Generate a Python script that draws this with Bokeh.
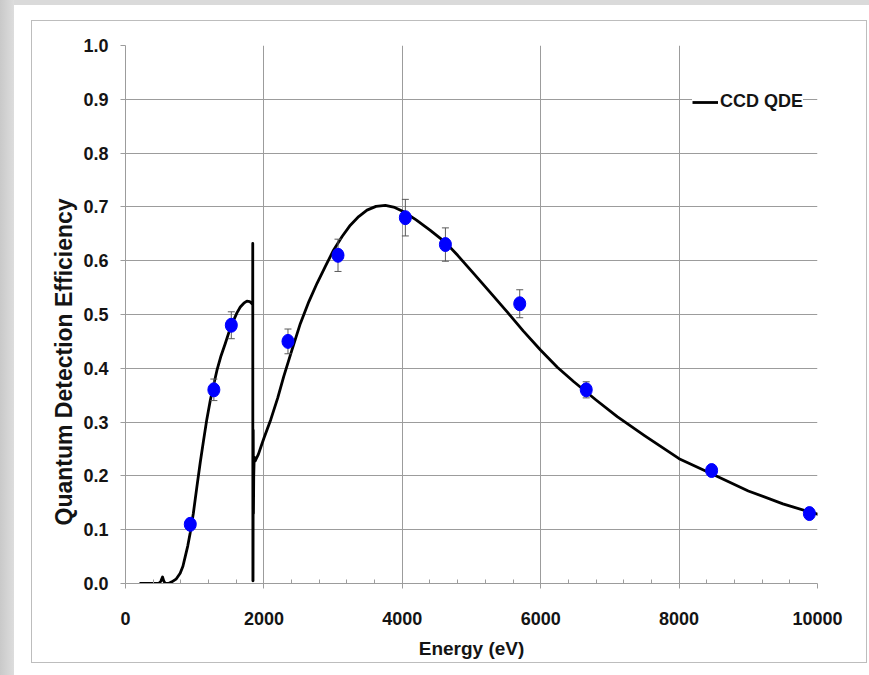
from bokeh.plotting import figure
from bokeh.models import (Range1d, FixedTicker, NumeralTickFormatter, Legend,
                          LegendItem, Title)
from bokeh.embed import file_html
from bokeh.resources import INLINE

# ---- data ----
qde_energy = [202, 300, 400, 480, 510, 535, 555, 575, 620, 670,
              730, 790, 830, 863, 900, 936, 980, 1032, 1080, 1128,
              1175, 1225, 1275, 1321, 1380, 1442, 1500, 1562, 1610, 1659,
              1710, 1755, 1795, 1828, 1838, 1839, 1841, 1843, 1846, 1849,
              1853, 1860, 1875, 1890, 1920, 1960, 2000, 2100, 2200, 2285,
              2400, 2526, 2650, 2768, 2890, 3008, 3130, 3249, 3370, 3490,
              3620, 3755, 3890, 4020, 4200, 4400, 4623, 4800, 5033, 5270,
              5515, 5750, 5997, 6240, 6479, 6800, 7106, 7500, 8000, 8500,
              9000, 9500, 9883, 10030]
qde_value = [0.0, 0.0, 0.0, 0.0, 0.004, 0.012, 0.004, 0.0, 0.0, 0.003,
             0.008, 0.019, 0.032, 0.05, 0.07, 0.095, 0.13, 0.18, 0.225, 0.266,
             0.305, 0.34, 0.37, 0.396, 0.423, 0.446, 0.469, 0.489, 0.503, 0.514,
             0.521, 0.525, 0.524, 0.52, 0.518, 0.632, 0.005, 0.005, 0.285, 0.13,
             0.2, 0.235, 0.228, 0.232, 0.24, 0.255, 0.27, 0.305, 0.345, 0.384,
             0.432, 0.483, 0.524, 0.558, 0.59, 0.62, 0.645, 0.666, 0.682, 0.694,
             0.701, 0.703, 0.699, 0.691, 0.676, 0.657, 0.634, 0.61, 0.576, 0.541,
             0.505, 0.469, 0.434, 0.402, 0.375, 0.341, 0.31, 0.275, 0.232, 0.202,
             0.172, 0.148, 0.133, 0.128]

meas_energy = [936, 1277, 1529, 2348, 3071, 4044, 4623, 5697, 6658, 8470, 9883]
meas_qde = [0.11, 0.36, 0.48, 0.45, 0.61, 0.68, 0.63, 0.52, 0.36, 0.21, 0.13]
meas_err = [0.005, 0.02, 0.025, 0.023, 0.03, 0.034, 0.031, 0.026, 0.015, 0.006, 0.005]

x_ticks = [0, 2000, 4000, 6000, 8000, 10000]
x_minor_ticks = [400, 800, 1200, 1600, 2400, 2800, 3200, 3600, 4400, 4800,
                 5200, 5600, 6400, 6800, 7200, 7600, 8400, 8800, 9200, 9600]
y_ticks = [0.0, 0.1, 0.2, 0.3, 0.4, 0.5, 0.6, 0.7, 0.8, 0.9, 1.0]

x_title = "Energy (eV)"
y_title = "Quantum Detection Efficiency"
legend_label = "CCD QDE"

# ---- styling ----
FONT = "Liberation Sans"
TXT = "#141414"
GRID = "#9c9c9c"
EDGE = "#bdbdbd"

p = figure(width=869, height=675, x_range=Range1d(0, 10000), y_range=Range1d(0, 1.0),
           output_backend="svg", toolbar_location=None,
           min_border_left=125, min_border_right=52, min_border_top=45,
           min_border_bottom=92)
p.background_fill_color = "white"
p.border_fill_alpha = 0
p.outline_line_color = None

# slide-like surroundings: gray strip at left/top and a thin panel border
p.styles = {
    "background": (
        f"linear-gradient({EDGE},{EDGE}) 31px 20px / 836px 1px no-repeat, "
        f"linear-gradient({EDGE},{EDGE}) 31px 662px / 836px 1px no-repeat, "
        f"linear-gradient({EDGE},{EDGE}) 31px 20px / 1px 643px no-repeat, "
        f"linear-gradient({EDGE},{EDGE}) 866px 20px / 1px 643px no-repeat, "
        "linear-gradient(to right, #c9c9c9, #dddddd) 0px 0px / 14px 100% no-repeat, "
        "linear-gradient(#dadada, #dadada) 0px 0px / 100% 5px no-repeat, "
        "white"
    )
}

# axes
p.xaxis.ticker = FixedTicker(ticks=x_ticks, minor_ticks=x_minor_ticks)
p.yaxis.ticker = FixedTicker(ticks=y_ticks)
p.xaxis.formatter = NumeralTickFormatter(format="0")
p.yaxis.formatter = NumeralTickFormatter(format="0.0")

for ax in (p.xaxis, p.yaxis):
    ax.axis_line_color = GRID
    ax.major_tick_line_color = GRID
    ax.major_tick_out = 5
    ax.major_tick_in = 0
    ax.major_label_text_font = FONT
    ax.major_label_text_font_style = "bold"
    ax.major_label_text_font_size = "18px"
    ax.major_label_text_color = TXT

p.xaxis.minor_tick_line_color = GRID
p.xaxis.minor_tick_in = 4
p.xaxis.minor_tick_out = 0
p.yaxis.minor_tick_line_color = None
p.xaxis.major_label_standoff = 23
p.yaxis.major_label_standoff = 12

p.xaxis.axis_label = x_title
p.xaxis.axis_label_text_font = FONT
p.xaxis.axis_label_text_font_style = "bold"
p.xaxis.axis_label_text_font_size = "19px"
p.xaxis.axis_label_text_color = TXT
p.xaxis.axis_label_standoff = 10

p.xgrid.ticker = FixedTicker(ticks=x_ticks)
p.ygrid.ticker = FixedTicker(ticks=y_ticks)
p.xgrid.grid_line_color = GRID
p.ygrid.grid_line_color = GRID
p.xgrid.grid_line_width = 1
p.ygrid.grid_line_width = 1

# y title as a side title (it sits lower than the frame centre in the reference)
ytitle = Title(text=y_title, align="left", offset=58, standoff=8,
               text_font=FONT, text_font_style="bold", text_font_size="23px",
               text_color=TXT)
p.add_layout(ytitle, "left")

# curve
r_line = p.line(qde_energy, qde_value, line_color="black", line_width=2.8,
                line_join="round")

# error bars
lower = [v - e for v, e in zip(meas_qde, meas_err)]
upper = [v + e for v, e in zip(meas_qde, meas_err)]
p.segment(x0=meas_energy, y0=lower, x1=meas_energy, y1=upper,
          line_color="#5a5a5a", line_width=1)
p.scatter(meas_energy, lower, marker="dash", size=7, line_color="#5a5a5a", line_width=1)
p.scatter(meas_energy, upper, marker="dash", size=7, line_color="#5a5a5a", line_width=1)

# measured points
p.ellipse(x=meas_energy, y=meas_qde, width=12, height=14,
          width_units="screen", height_units="screen",
          fill_color="#0000ff", line_color="#0000ff")

legend = Legend(items=[LegendItem(label=legend_label, renderers=[r_line])],
                location=(567, 471))
legend.label_text_font = FONT
legend.label_text_font_style = "bold"
legend.label_text_font_size = "18px"
legend.label_text_color = TXT
legend.glyph_width = 26
legend.label_standoff = 2
legend.padding = 2
legend.margin = 0
legend.spacing = 0
legend.border_line_color = None
legend.background_fill_color = "white"
legend.background_fill_alpha = 1
p.add_layout(legend)

open("out.html", "w").write(file_html(p, INLINE))
